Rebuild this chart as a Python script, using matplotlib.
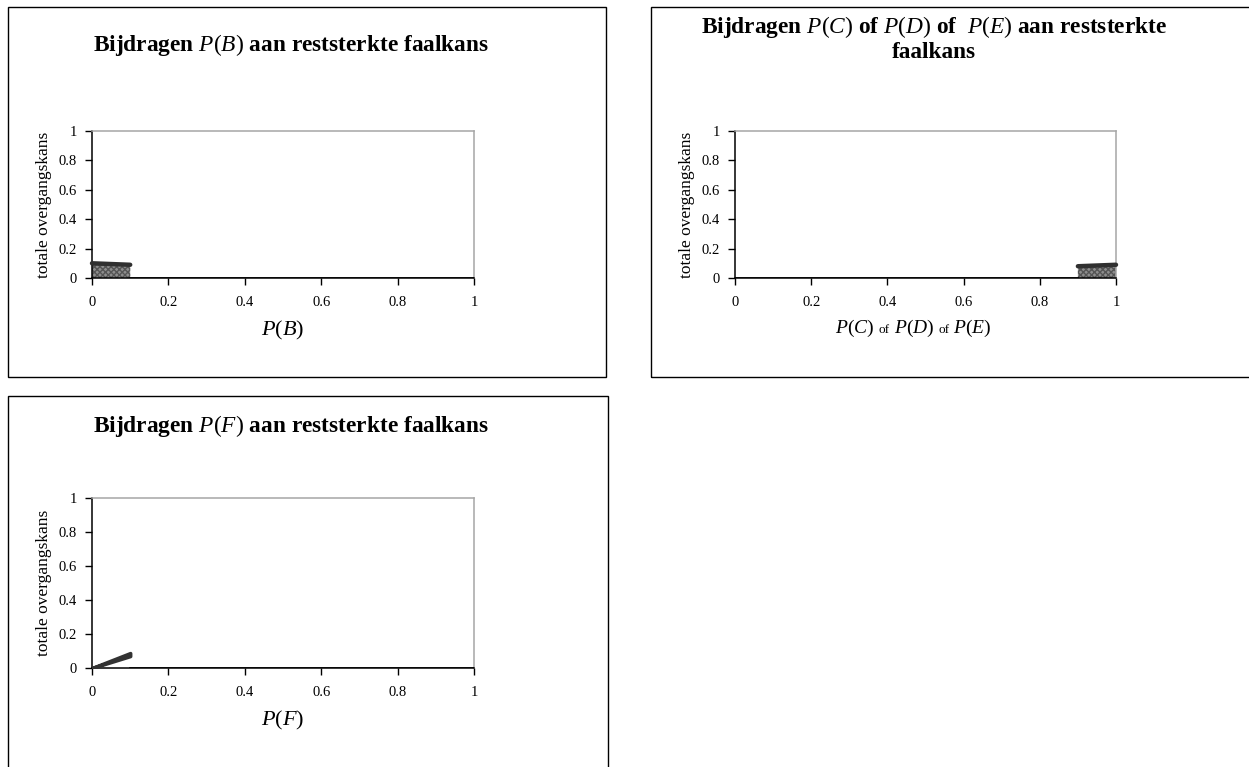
import matplotlib
matplotlib.use("Agg")
import matplotlib.pyplot as plt
from matplotlib.patches import Rectangle
from matplotlib.offsetbox import TextArea, HPacker, AnnotationBbox

plt.rcParams["font.family"] = ["Liberation Serif", "DejaVu Serif"]
plt.rcParams["mathtext.fontset"] = "custom"
plt.rcParams["mathtext.rm"] = "Liberation Serif"
plt.rcParams["mathtext.it"] = "Liberation Serif:italic"

W, H = 1249, 767

# Shared axis ticks
tick_vals = [0, 0.2, 0.4, 0.6, 0.8, 1]
tick_labels = ["0", "0.2", "0.4", "0.6", "0.8", "1"]

# P(B): contribution over the low end of the range
b_x = [0.0, 0.1]
b_top = [0.10, 0.09]
b_rest_x = [0.1, 1.0]
b_rest_y = [0.0, 0.0]

# P(C) / P(D) / P(E): contribution over the high end
cde_x = [0.9, 1.0]
cde_top = [0.08, 0.09]
cde_rest_x = [0.0, 0.9]
cde_rest_y = [0.0, 0.0]

# P(F): rising band near zero
f_x = [0.0, 0.1]
f_low = [0.0, 0.07]
f_high = [0.0, 0.088]
f_rest_x = [0.1, 1.0]
f_rest_y = [0.0, 0.0]

ylabel_text = "totale overgangskans"

fig = plt.figure(figsize=(W / 100, H / 100), dpi=100)


def frac(x0, y0, x1, y1):
    return [x0 / W, 1 - y1 / H, (x1 - x0) / W, (y1 - y0) / H]


def panel_box(x0, y0, x1, y1):
    r = Rectangle((x0 / W, 1 - y1 / H), (x1 - x0) / W, (y1 - y0) / H,
                  transform=fig.transFigure, fill=False, edgecolor="black",
                  linewidth=1.0, zorder=0)
    fig.add_artist(r)


def style_axes(ax):
    ax.set_xlim(0, 1)
    ax.set_ylim(0, 1)
    ax.set_xticks(tick_vals)
    ax.set_xticklabels(tick_labels)
    ax.set_yticks(tick_vals)
    ax.set_yticklabels(tick_labels)
    for s in ("left", "bottom"):
        ax.spines[s].set_color("black")
        ax.spines[s].set_linewidth(1.1)
    for s in ("top", "right"):
        ax.spines[s].set_color("#a6a6a6")
        ax.spines[s].set_linewidth(1.1)
    ax.tick_params(axis="x", direction="out", length=5, width=1, pad=8,
                   labelsize=10.5, top=False)
    ax.tick_params(axis="y", direction="out", length=5, width=1, pad=6,
                   labelsize=10.5, right=False)
    ax.set_ylabel(ylabel_text, fontsize=12.5, labelpad=5)
    ax.set_facecolor("white")


def shaded(ax, x, top):
    ax.fill_between(x, 0, top, facecolor="#8e8e8e", edgecolor="#555555",
                    hatch="xxxxxx", linewidth=0, zorder=2)
    ax.plot(x, top, color="#303030", linewidth=3.2, solid_capstyle="round",
            zorder=3, clip_on=False)


TITLE_SIZE = 16.8

# Panel 1: P(B)
panel_box(8, 7, 606, 377)
ax1 = fig.add_axes(frac(92, 131, 474, 278))
style_axes(ax1)
shaded(ax1, b_x, b_top)
ax1.plot(b_rest_x, b_rest_y, color="black", linewidth=1.2, zorder=3)
ax1.set_xlabel(r"$P(B)$", fontsize=16, labelpad=7)
fig.text(291 / W, 1 - 45 / H,
         r"Bijdragen $P(B)$ aan reststerkte faalkans",
         ha="center", va="center", fontsize=TITLE_SIZE, fontweight="bold")

# Panel 2: P(C) of P(D) of P(E)
panel_box(651, 7, 1260, 377)
ax2 = fig.add_axes(frac(735, 131, 1116, 278))
style_axes(ax2)
shaded(ax2, cde_x, cde_top)
ax2.plot(cde_rest_x, cde_rest_y, color="black", linewidth=1.2, zorder=3)
parts = [
    TextArea(r"$P(C)$", textprops=dict(fontsize=14)),
    TextArea("of", textprops=dict(fontsize=9.5)),
    TextArea(r"$P(D)$", textprops=dict(fontsize=14)),
    TextArea("of", textprops=dict(fontsize=9.5)),
    TextArea(r"$P(E)$", textprops=dict(fontsize=14)),
]
label_box = HPacker(children=parts, align="baseline", pad=0, sep=3)
ab = AnnotationBbox(label_box, (0.468, -0.345), xycoords="axes fraction",
                    frameon=False, box_alignment=(0.5, 0.5))
ax2.add_artist(ab)
fig.text(934 / W, 1 - 27 / H,
         r"Bijdragen $P(C)$ of $P(D)$ of  $P(E)$ aan reststerkte",
         ha="center", va="center", fontsize=TITLE_SIZE, fontweight="bold")
fig.text(934 / W, 1 - 53 / H, "faalkans",
         ha="center", va="center", fontsize=TITLE_SIZE, fontweight="bold")

# Panel 3: P(F)
panel_box(8, 396, 608, 780)
ax3 = fig.add_axes(frac(92, 498, 474, 668))
style_axes(ax3)
ax3.fill_between(f_x, f_low, f_high, facecolor="#333333", edgecolor="#333333",
                 linewidth=2.5, zorder=3)
ax3.plot(f_rest_x, f_rest_y, color="black", linewidth=1.2, zorder=3)
ax3.set_xlabel(r"$P(F)$", fontsize=16, labelpad=7)
fig.text(291 / W, 1 - 426 / H,
         r"Bijdragen $P(F)$ aan reststerkte faalkans",
         ha="center", va="center", fontsize=TITLE_SIZE, fontweight="bold")

fig.savefig("out.png", dpi=100)
